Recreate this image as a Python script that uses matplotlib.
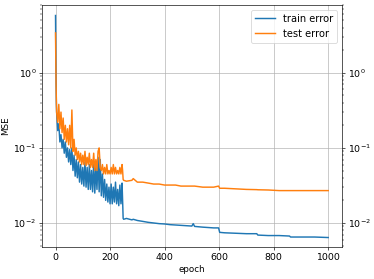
import matplotlib
matplotlib.use('Agg')
import matplotlib.pyplot as plt

epochs = [0, 1, 2, 3, 4, 8, 12, 16, 20, 24, 28, 32, 36, 40, 44, 48, 52, 56, 60,
          64, 68, 72, 76, 80, 84, 88, 92, 96, 100, 104, 108, 112, 116, 120, 124,
          128, 132, 136, 140, 144, 148, 152, 156, 160, 164, 168, 172, 176, 180,
          184, 188, 192, 196, 200, 204, 208, 212, 216, 220, 224, 228, 232, 236,
          240, 244, 246, 248, 250, 260, 280, 285, 300, 320, 340, 360, 380, 400,
          420, 440, 460, 480, 500, 505, 510, 540, 560, 580, 598, 602, 620, 660,
          700, 738, 742, 780, 820, 858, 862, 900, 950, 1000]

train_error = [5.8, 2.0, 0.8, 0.4, 0.3, 0.17, 0.21, 0.12, 0.15, 0.1, 0.13, 0.085,
               0.12, 0.075, 0.1, 0.065, 0.095, 0.06, 0.1, 0.05, 0.08, 0.042,
               0.07, 0.04, 0.065, 0.035, 0.06, 0.033, 0.055, 0.031, 0.065, 0.03,
               0.055, 0.028, 0.06, 0.028, 0.05, 0.026, 0.065, 0.025, 0.055, 0.028,
               0.075, 0.026, 0.07, 0.023, 0.045, 0.022, 0.038, 0.02, 0.033, 0.019,
               0.03, 0.018, 0.033, 0.018, 0.03, 0.019, 0.035, 0.018, 0.028, 0.017,
               0.032, 0.018, 0.034, 0.02, 0.0115, 0.0112, 0.0115, 0.011, 0.0112,
               0.0108, 0.0105, 0.0102, 0.01, 0.0098, 0.0097, 0.0095, 0.0094,
               0.0093, 0.0092, 0.0091, 0.0098, 0.009, 0.0088, 0.0087, 0.0086,
               0.0086, 0.0075, 0.0074, 0.0073, 0.0072, 0.0072, 0.0069, 0.0068,
               0.0068, 0.0067, 0.0065, 0.0065, 0.0065, 0.0064]

test_error = [3.4, 1.5, 0.7, 0.45, 0.3, 0.22, 0.38, 0.18, 0.3, 0.16, 0.25, 0.13,
              0.2, 0.12, 0.18, 0.11, 0.2, 0.1, 0.32, 0.09, 0.13, 0.08, 0.1, 0.07,
              0.09, 0.065, 0.085, 0.06, 0.08, 0.06, 0.09, 0.058, 0.075, 0.06,
              0.085, 0.055, 0.07, 0.055, 0.085, 0.05, 0.07, 0.05, 0.09, 0.1,
              0.055, 0.05, 0.06, 0.045, 0.055, 0.045, 0.06, 0.045, 0.05, 0.045,
              0.055, 0.045, 0.06, 0.045, 0.055, 0.045, 0.05, 0.045, 0.055, 0.045,
              0.06, 0.05, 0.038, 0.037, 0.036, 0.037, 0.039, 0.035, 0.035, 0.034,
              0.033, 0.033, 0.032, 0.032, 0.032, 0.031, 0.031, 0.031, 0.031,
              0.031, 0.030, 0.030, 0.030, 0.031, 0.029, 0.029, 0.0285, 0.028,
              0.0278, 0.0277, 0.0275, 0.027, 0.027, 0.027, 0.027, 0.027, 0.027]

plt.rcParams['font.size'] = 11.5

dpi = 58.44
fig, ax = plt.subplots(figsize=(374 / dpi, 279 / dpi), dpi=dpi)
fig.subplots_adjust(left=0.112, right=0.914, top=0.982, bottom=0.115)

ax.plot(epochs, train_error, label='train error', lw=1.8)
ax.plot(epochs, test_error, label='test error', lw=1.8)

ax.set_yscale('log')
ax.set_ylim(0.0048, 8)
ax.set_xlim(-50, 1050)
ax.set_xlabel('epoch', fontsize=10.8)
ax.set_ylabel('MSE', fontsize=10.8)
ax.grid(True)
ax.tick_params(which='both', right=True, labelright=True)
ax.legend(loc='upper right', fontsize=12.2)

fig.savefig('out.png', dpi=dpi)
